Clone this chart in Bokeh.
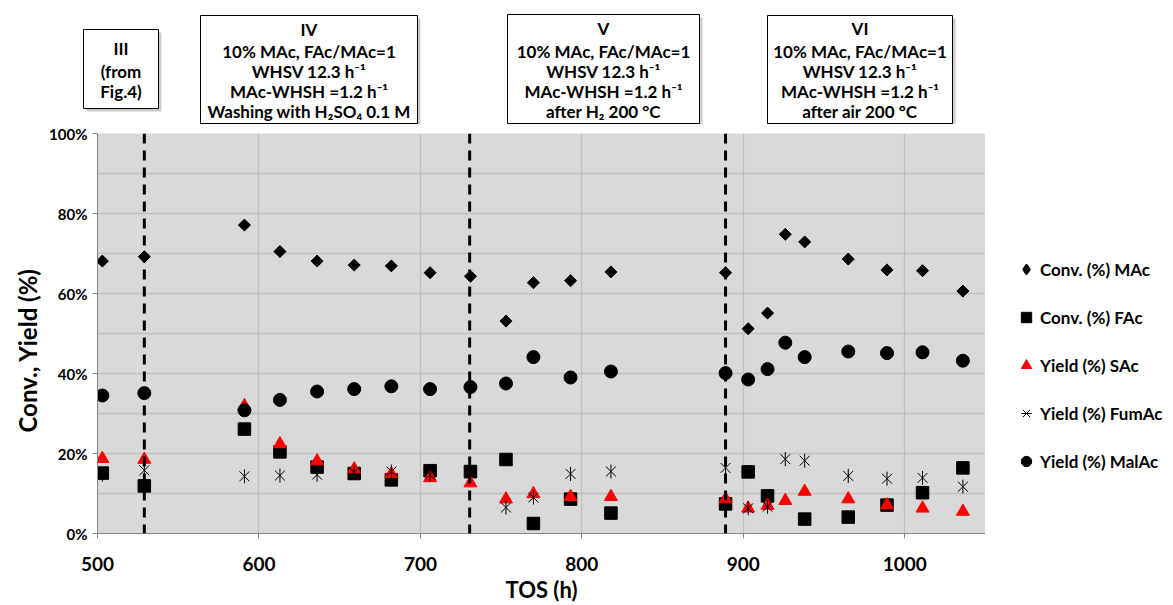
import numpy as np
from bokeh.plotting import figure
from bokeh.layouts import column, row
from bokeh.models import (Range1d, FixedTicker, PrintfTickFormatter, Legend,
                          LegendItem, Span, Title)
from bokeh.core.properties import value
from bokeh.embed import file_html
from bokeh.resources import INLINE

# ---------------- data ----------------
tos = [503, 529, 591, 613, 636, 659, 682, 706, 731, 753, 770, 793, 818,
       889, 903, 915, 926, 938, 965, 989, 1011, 1036]
conv_mac = [68.1, 69.2, 77.1, 70.5, 68.1, 67.1, 66.9, 65.2, 64.3, 53.1, 62.7,
            63.2, 65.4, 65.2, 51.2, 55.1, 74.8, 72.9, 68.6, 65.9, 65.7, 60.6]
conv_fac = [15.1, 11.9, 26.1, 20.4, 16.6, 15.0, 13.4, 15.7, 15.5, 18.5, 2.5,
            8.6, 5.1, 7.4, 15.4, 9.4, np.nan, 3.6, 4.1, 7.1, 10.2, 16.4]
yield_sac = [18.7, 18.5, 31.9, 22.4, 18.1, 16.1, 14.9, 13.9, 12.6, 8.6, 9.9,
             9.2, 9.2, 8.6, 6.3, 7.0, 8.2, 10.5, 8.6, 7.1, 6.3, 5.5]
yield_fumac = [14.7, 15.8, 14.3, 14.5, 14.7, 15.3, 15.5, 14.7, 14.9, 6.5, 9.0,
               14.9, 15.5, 16.4, 6.3, 6.7, 18.6, 18.2, 14.4, 13.7, 13.9, 11.7]
yield_malac = [34.5, 35.1, 30.8, 33.4, 35.5, 36.1, 36.8, 36.1, 36.6, 37.5, 44.1,
               39.0, 40.5, 40.1, 38.5, 41.1, 47.7, 44.1, 45.5, 45.1, 45.3, 43.2]
series_names = ["Conv. (%) MAc", "Conv. (%) FAc", "Yield (%) SAc",
                "Yield (%) FumAc", "Yield (%) MalAc"]
phase_changes = [529, 730.5, 889]
x_ticks = [500, 600, 700, 800, 900, 1000]
y_ticks = [0, 20, 40, 60, 80, 100]
y_minor = [10, 30, 50, 70, 90]

box_texts = [
    ["III", "(from", "Fig.4)"],
    ["IV", "10% MAc, FAc/MAc=1", "WHSV 12.3 h\u207b\u00b9",
     "MAc-WHSH =1.2 h\u207b\u00b9", "Washing with H\u2082SO\u2084 0.1 M"],
    ["V", "10% MAc, FAc/MAc=1", "WHSV 12.3 h\u207b\u00b9",
     "MAc-WHSH =1.2 h\u207b\u00b9", "after H\u2082 200 \u00b0C"],
    ["VI", "10% MAc, FAc/MAc=1", "WHSV 12.3 h\u207b\u00b9",
     "MAc-WHSH =1.2 h\u207b\u00b9", "after air 200 \u00b0C"],
]

FONT = "Lato"

# ---------------- layout (pixels) ----------------
TOTAL_W = 1165
TOP_H = 124                      # strip holding the condition boxes
MAIN_W, MAIN_H = 985, 481
ML, MR, MT, MB = 97, 0, 9, 72
LEG_W = TOTAL_W - MAIN_W

# ---------------- top strip: condition boxes ----------------
top = figure(width=TOTAL_W, height=TOP_H, output_backend="svg",
             toolbar_location=None, x_range=Range1d(0, TOTAL_W),
             y_range=Range1d(TOP_H, 0), min_border=0, x_axis_type=None,
             y_axis_type=None, outline_line_color=None,
             background_fill_color="white", border_fill_color="white")
# (left, top, right, bottom, text line centres) in strip pixels
boxes = [
    (83, 29, 158, 108, [48, 71, 91]),
    (200, 15, 417, 123, [29, 51, 71, 91, 111]),
    (507, 14, 699, 123, [28, 51, 71, 91, 111]),
    (767, 15, 952, 123, [28, 51, 71, 91, 111]),
]
bl = [b[0] for b in boxes]
bt = [b[1] for b in boxes]
br = [b[2] for b in boxes]
bb = [b[3] for b in boxes]
top.quad(left=[v + 3 for v in bl], right=[v + 3 for v in br],
         top=[v + 3 for v in bt], bottom=[v + 3 for v in bb],
         fill_color="#9A9A9A", fill_alpha=0.5, line_color=None)
top.quad(left=bl, right=br, top=bt, bottom=bb, fill_color="white",
         line_color="black", line_width=1)
tx, ty, tt = [], [], []
for b, texts in zip(boxes, box_texts):
    for t, ly in zip(texts, b[4]):
        tx.append((b[0] + b[2]) / 2)
        ty.append(ly)
        tt.append(t)
top.text(x=tx, y=ty, text=tt, text_font=value(FONT), text_font_style="bold",
         text_font_size="17px", text_color="black", text_align="center",
         text_baseline="middle")

# ---------------- main chart ----------------
p = figure(width=MAIN_W, height=MAIN_H, output_backend="svg",
           toolbar_location=None, x_range=Range1d(500, 1050),
           y_range=Range1d(0, 100), min_border_left=ML, min_border_right=MR,
           min_border_top=MT, min_border_bottom=MB,
           background_fill_color="#D9D9D9", border_fill_color="white",
           outline_line_color=None)

p.xgrid.grid_line_color = "#BFBFBF"
p.xgrid.grid_line_width = 1.3
p.ygrid.grid_line_color = "#BFBFBF"
p.ygrid.grid_line_width = 1.3
p.ygrid.minor_grid_line_color = "#BFBFBF"
p.ygrid.minor_grid_line_width = 1.3

p.xaxis.ticker = FixedTicker(ticks=x_ticks)
p.yaxis.ticker = FixedTicker(ticks=y_ticks, minor_ticks=y_minor)
p.yaxis.formatter = PrintfTickFormatter(format="%d%%")
for ax in (p.xaxis, p.yaxis):
    ax.axis_line_color = "#868686"
    ax.major_tick_line_color = "#868686"
    ax.major_tick_in = 0
    ax.major_tick_out = 5
    ax.minor_tick_line_color = None
    ax.major_label_text_font = FONT
    ax.major_label_text_font_style = "bold"
    ax.major_label_text_color = "black"
    ax.axis_label_text_font = FONT
    ax.axis_label_text_font_style = "bold"
    ax.axis_label_text_color = "black"
    ax.axis_label_text_font_size = "22px"
p.xaxis.major_label_text_font_size = "19px"
p.yaxis.major_label_text_font_size = "15px"
p.xaxis.major_label_standoff = 18
p.yaxis.major_label_standoff = 5
p.xaxis.axis_label = "TOS (h)"
p.xaxis.axis_label_standoff = 2

# y-axis title as a side-panel title so it can sit where the reference has it
p.add_layout(Title(text="Conv., Yield (%)", align="left", offset=101,
                   text_font=FONT, text_font_style="bold",
                   text_font_size="24px", text_color="black"), "left")

for v in phase_changes:
    p.add_layout(Span(location=v, dimension="height", line_color="black",
                      line_width=3, line_dash="10 7"))

# series in Excel drawing order
p.scatter(tos, conv_mac, marker="square", angle=np.pi / 4, size=8.5,
          color="black")
p.scatter(tos, conv_fac, marker="square", size=12.5, color="black")
p.scatter(tos, yield_sac, marker="triangle", size=13, color="#FF0000")
p.scatter(tos, yield_fumac, marker="x", size=14, line_color="black",
          line_width=1)
p.scatter(tos, yield_fumac, marker="dash", angle=np.pi / 2, size=14,
          line_color="black", line_width=1)
p.scatter(tos, yield_malac, marker="circle", size=13, color="black")

# ---------------- legend panel ----------------
leg = figure(width=LEG_W, height=MAIN_H, output_backend="svg",
             toolbar_location=None, x_range=Range1d(0, 1), y_range=Range1d(0, 1),
             min_border=0, x_axis_type=None, y_axis_type=None,
             outline_line_color=None, background_fill_color="white",
             border_fill_color="white")
nan = [np.nan]
k_mac = leg.scatter(nan, nan, marker="diamond", color="black", line_width=1.5)
k_fac = leg.scatter(nan, nan, marker="square", color="black")
k_sac = leg.scatter(nan, nan, marker="triangle", color="#FF0000")
k_fum1 = leg.scatter(nan, nan, marker="x", line_color="black", line_width=1)
k_fum2 = leg.scatter(nan, nan, marker="dash", line_color="black", line_width=1)
k_mal = leg.scatter(nan, nan, marker="circle", color="black")
legend = Legend(items=[
    LegendItem(label=series_names[0], renderers=[k_mac]),
    LegendItem(label=series_names[1], renderers=[k_fac]),
    LegendItem(label=series_names[2], renderers=[k_sac]),
    LegendItem(label=series_names[3], renderers=[k_fum1, k_fum2]),
    LegendItem(label=series_names[4], renderers=[k_mal]),
], location=(28, 59), glyph_width=26, glyph_height=26, spacing=22,
    padding=0, margin=0, label_standoff=1, border_line_color=None,
    background_fill_alpha=0, label_text_font=FONT,
    label_text_font_style="bold", label_text_font_size="17px",
    label_text_color="black")
leg.add_layout(legend)

layout = column(top, row(p, leg))
open("out.html", "w").write(file_html(layout, INLINE))
